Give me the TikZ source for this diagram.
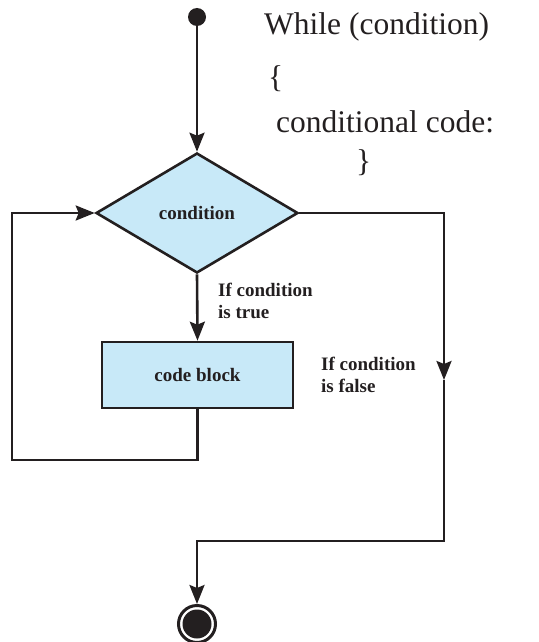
\documentclass[tikz,border=0pt]{standalone}
\usepackage{fontspec}
\setmainfont{Liberation Serif}
\usetikzlibrary{shapes.geometric,arrows.meta}
\definecolor{ink}{HTML}{231F20}
\definecolor{boxblue}{RGB}{200,233,248}

\begin{document}
\begin{tikzpicture}[x=1pt,y=-1pt,
  line/.style={line width=2.6pt, draw=ink},
  arr/.style={line, -{Stealth[length=19pt,width=15pt,inset=3pt]}},
  lbl/.style={font=\fontsize{19}{22}\selectfont\bfseries, align=left, inner sep=0pt, anchor=north west, text=ink},
  code/.style={font=\fontsize{31.5}{36}\selectfont, inner sep=0pt, anchor=base west, text=ink}]
\useasboundingbox (0,0) rectangle (538,642);

\begin{scope}[every node/.style={line, fill=boxblue, inner sep=0pt, text=ink, font=\fontsize{19}{22}\selectfont\bfseries}]
\node[diamond, minimum width=202pt, minimum height=120pt] (cond) at (197,213) {condition};
\node[rectangle, minimum width=191pt, minimum height=66pt] (block) at (197.5,375) {code block};
\end{scope}

\node[circle, fill=ink, minimum size=18pt, inner sep=0pt] (start) at (197,17) {};
\node[circle, line, line width=3pt, minimum size=37pt, inner sep=0pt] (stop) at (197,624) {};
\fill[ink] (stop.center) circle (14.5pt);

% code text
\node[code] (head) at (264,35) {While (condition)};
\node[code] (open) at (268,88) {\{};
\node[code] (body) at (276,132) {conditional code:};
\node[code] (close) at (356,171) {\}};

\node[lbl] (truelbl) at (218,283) {If condition\\is true};
\node[lbl] (falselbl) at (321,357) {If condition\\is false};

\coordinate (loop) at (12,460);
\coordinate (side) at (444,380);
\coordinate (join) at (444,541);

\draw[arr] (start) -- (cond.north);
\draw[arr] (cond.south) -- (block.north);
\draw[arr] (block.south) |- (loop) |- (cond.west);
\draw[arr] (cond.east) -| (side);
\draw[arr] (side) -- (join) -| (stop.north);

\end{tikzpicture}
\end{document}
